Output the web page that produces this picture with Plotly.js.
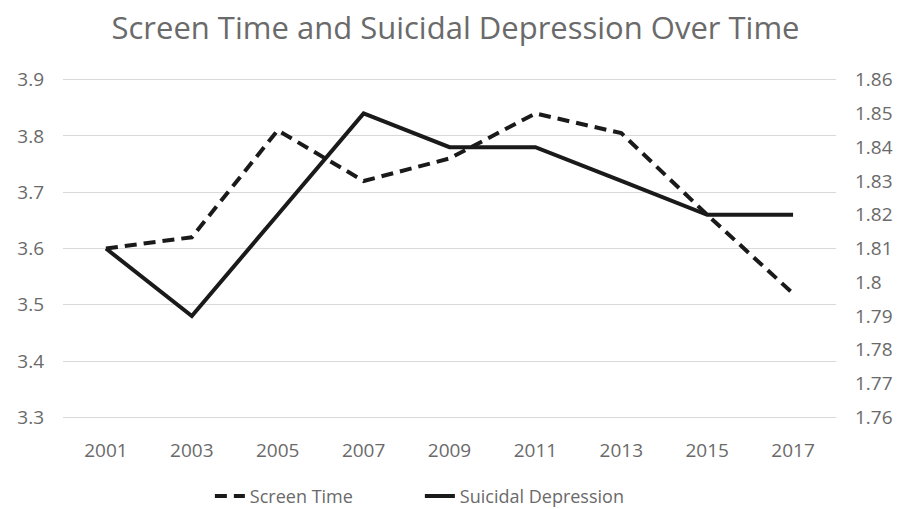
<!DOCTYPE html>
<html>
<head>
<meta charset="utf-8">
<script src="https://cdn.plot.ly/plotly-3.0.1.min.js"></script>
<style>
  html, body { margin: 0; padding: 0; background: #fff; }
  #chart { width: 911px; height: 509px; }
</style>
</head>
<body>
<div id="chart"></div>
<script>
// Survey years and the two series plotted against them
const years = ['2001', '2003', '2005', '2007', '2009', '2011', '2013', '2015', '2017'];
const screenTime = [3.60, 3.62, 3.81, 3.72, 3.76, 3.84, 3.805, 3.66, 3.52];
const suicidalDepression = [1.81, 1.79, 1.82, 1.85, 1.84, 1.84, 1.83, 1.82, 1.82];

// Axis ticks
const leftTicks = [3.3, 3.4, 3.5, 3.6, 3.7, 3.8, 3.9];
const leftTickText = ['3.3', '3.4', '3.5', '3.6', '3.7', '3.8', '3.9'];
const rightTicks = [1.76, 1.77, 1.78, 1.79, 1.80, 1.81, 1.82, 1.83, 1.84, 1.85, 1.86];
const rightTickText = ['1.76', '1.77', '1.78', '1.79', '1.8', '1.81', '1.82', '1.83', '1.84', '1.85', '1.86'];

const FONT = '"Open Sans", sans-serif';
const GREY = '#6a6a6a';
const INK = '#1a1a1a';
const TICK = 19;

const traces = [
  {
    x: years, y: screenTime, name: 'Screen Time',
    type: 'scatter', mode: 'lines', yaxis: 'y',
    line: { color: INK, width: 4, dash: '12px,7px' }
  },
  {
    x: years, y: suicidalDepression, name: 'Suicidal Depression',
    type: 'scatter', mode: 'lines', yaxis: 'y2',
    line: { color: INK, width: 4 }
  }
];

// padding (in data units) so the outermost gridlines stay inside the plot
const padL = 0.003;
const padR = padL / 6;

const layout = {
  width: 911, height: 509,
  margin: { l: 63, r: 75, t: 78, b: 90, autoexpand: false },
  paper_bgcolor: '#fff', plot_bgcolor: '#fff',
  font: { family: FONT, color: GREY, size: TICK },
  title: {
    text: 'Screen Time and Suicidal Depression Over Time',
    font: { family: FONT, size: 31, color: GREY },
    x: 0.5, xanchor: 'center', y: 0.945, yanchor: 'middle'
  },
  showlegend: true,
  legend: {
    orientation: 'h', x: 0.19, xanchor: 'left',
    yref: 'container', y: 0.025, yanchor: 'middle',
    font: { family: FONT, size: 18, color: GREY },
    traceorder: 'normal', entrywidth: 165, entrywidthmode: 'pixels'
  },
  xaxis: {
    type: 'category', range: [-0.5, 8.5],
    showgrid: false, zeroline: false, showline: false,
    ticks: '', ticklabelstandoff: 18,
    tickfont: { family: FONT, size: TICK, color: GREY }
  },
  yaxis: {
    range: [3.3 - padL, 3.9 + padL], tickvals: leftTicks, ticktext: leftTickText,
    showgrid: true, gridcolor: '#d9d9d9', gridwidth: 1,
    zeroline: false, showline: false, ticks: '', ticklabelstandoff: 18,
    tickfont: { family: FONT, size: TICK, color: GREY }
  },
  yaxis2: {
    range: [1.76 - padR, 1.86 + padR], tickvals: rightTicks, ticktext: rightTickText,
    overlaying: 'y', side: 'right',
    showgrid: false, zeroline: false, showline: false, ticks: '', ticklabelstandoff: 18,
    tickfont: { family: FONT, size: TICK, color: GREY }
  }
};

Plotly.newPlot('chart', traces, layout, { staticPlot: true, displayModeBar: false });
</script>
</body>
</html>
